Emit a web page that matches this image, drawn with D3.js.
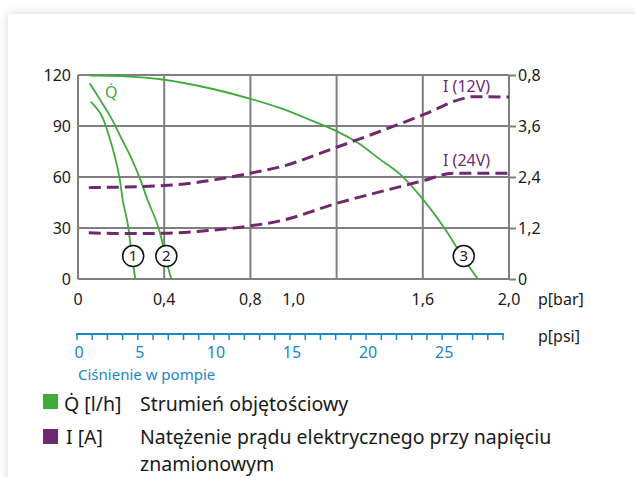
<!DOCTYPE html>
<html>
<head>
<meta charset="utf-8">
<script src="https://cdn.jsdelivr.net/npm/d3@7"></script>
<style>
  body { margin: 0; background: #fff; overflow: hidden; }
  #card { position: absolute; left: 8px; top: 14px; width: 700px; height: 520px;
          background: #fff; box-shadow: 0 0 9px rgba(0,0,0,0.16); }
  svg { position: absolute; left: 0; top: 0; }
  text { font-family: 'Noto Sans', sans-serif; fill: #1a1a1a; }
</style>
</head>
<body>
<div id="card"></div>
<script>
height = 477;
width = 635;

// data
barGrid = [0, 0.4, 0.8, 1.2, 1.6, 2.0];
barTicks = [0, 0.4, 0.8, 1.0, 1.6, 2.0];
barLabels = ['0', '0,4', '0,8', '1,0', '1,6', '2,0'];
qTicks = [0, 30, 60, 90, 120];
iTicks = [0, 1.2, 2.4, 3.6, 4.8];
iLabels = ['0', '1,2', '2,4', '3,6', '0,8'];
psiTicks = d3.range(0, 29);
psiLabelAt = [0, 4, 9, 14, 19, 24];
psiLabels = ['0', '5', '10', '15', '20', '25'];

curve1Bar = [0.059, 0.108, 0.147, 0.173, 0.193, 0.209, 0.229, 0.24, 0.251, 0.266];
curve1Q = [104.3, 96.5, 82.8, 71, 59.2, 45.5, 33.7, 24, 13.1, 0];
curve2Bar = [0.054, 0.108, 0.155, 0.201, 0.248, 0.287, 0.326, 0.364, 0.387, 0.405, 0.433];
curve2Q = [115.1, 104.3, 94.5, 82.8, 71, 59.2, 45.5, 33.7, 24, 13.1, 0];
curve3Bar = [0.056, 0.2, 0.4, 0.6, 0.8, 0.94, 1.05, 1.2, 1.3, 1.4, 1.5, 1.6, 1.7, 1.78, 1.855];
curve3Q = [119.6, 119.3, 117.2, 112.5, 106, 100.5, 95, 87, 80, 70.5, 61, 47, 30, 14, 0];
i12Bar = [0.05, 0.4, 0.63, 0.8, 0.94, 1.2, 1.4, 1.6, 1.79, 1.83, 2.0];
i12 = [2.15, 2.2, 2.33, 2.49, 2.64, 3.1, 3.47, 3.86, 4.25, 4.29, 4.28];
i24Bar = [0.05, 0.2, 0.4, 0.6, 0.8, 0.94, 1.2, 1.4, 1.6, 1.74, 2.0];
i24 = [1.09, 1.07, 1.075, 1.14, 1.25, 1.37, 1.78, 2.05, 2.31, 2.49, 2.49];
circleBar = [0.256, 0.41, 1.79];
circleQ = [13.5, 13.5, 13.5];
circleLabels = ['1', '2', '3'];

green = '#3fab3a';
purple = '#6e2970';
blue = '#1b86c6';
grey = '#7f7f7f';

svg1 = d3.select('body')
    .append('svg')
    .attr('width', width)
    .attr('height', height)

//scales
var xScale = d3.scaleLinear().domain([0, 2]).range([78, 509])
var yScale = d3.scaleLinear().domain([0, 120]).range([279, 75])
var iScale = d3.scaleLinear().domain([0, 4.8]).range([279, 75])
var psiScale = d3.scaleLinear().domain([0, 28]).range([77, 503])

//grid
svg1.append('g').selectAll('line')
    .data(barGrid)
    .join('line')
    .attr('x1', d => xScale(d)).attr('x2', d => xScale(d))
    .attr('y1', yScale(0)).attr('y2', yScale(120))
    .attr('stroke', grey).attr('stroke-width', 2)

svg1.append('g').selectAll('line')
    .data(qTicks)
    .join('line')
    .attr('x1', xScale(0)).attr('x2', xScale(2))
    .attr('y1', d => yScale(d)).attr('y2', d => yScale(d))
    .attr('stroke', grey).attr('stroke-width', 2)

//left axis labels
svg1.append('g').selectAll('text')
    .data(qTicks)
    .join('text')
    .text(d => d)
    .attr('x', 71)
    .attr('y', d => yScale(d) + 5.5)
    .attr('text-anchor', 'end')
    .style('font-size', '16px')

//right axis
var rightAxis = svg1.append('g')
    .attr('transform', 'translate(' + xScale(2) + ',0)')
    .call(d3.axisRight(iScale).tickValues(iTicks).tickSize(7).tickPadding(2)
        .tickFormat((d, i) => iLabels[i]))
rightAxis.select('.domain').remove()
rightAxis.selectAll('line').attr('stroke', grey).attr('stroke-width', 2)
rightAxis.selectAll('text').attr('fill', '#1a1a1a').style('font-size', '16px')
    .style('font-family', "'Noto Sans', sans-serif")

//bar labels
svg1.append('g').selectAll('text')
    .data(barTicks)
    .join('text')
    .text((d, i) => barLabels[i])
    .attr('x', d => xScale(d))
    .attr('y', 305)
    .attr('text-anchor', 'middle')
    .style('font-size', '16px')

svg1.append('text').text('p[bar]').attr('x', 538).attr('y', 305).style('font-size', '16px')
svg1.append('text').text('p[psi]').attr('x', 538).attr('y', 342).style('font-size', '16px')

//psi axis
svg1.append('line')
    .attr('x1', psiScale(0) - 1).attr('x2', psiScale(28) + 1)
    .attr('y1', 334).attr('y2', 334)
    .attr('stroke', blue).attr('stroke-width', 2)
svg1.append('g').selectAll('line')
    .data(psiTicks)
    .join('line')
    .attr('x1', d => psiScale(d)).attr('x2', d => psiScale(d))
    .attr('y1', 334).attr('y2', 340)
    .attr('stroke', blue).attr('stroke-width', 1.5)
svg1.append('g').selectAll('text')
    .data(psiLabelAt)
    .join('text')
    .text((d, i) => psiLabels[i])
    .attr('x', d => psiScale(d) + 2)
    .attr('y', 358)
    .attr('text-anchor', 'middle')
    .style('font-size', '16px')
    .style('fill', blue)
svg1.append('text').text('Ciśnienie w pompie')
    .attr('x', 78).attr('y', 380)
    .style('font-size', '15px').style('fill', blue)

//lines
var qLine = d3.line()
    .x(d => xScale(d[0]))
    .y(d => yScale(d[1]))
    .curve(d3.curveCatmullRom.alpha(0.5))
var iLine = d3.line()
    .x(d => xScale(d[0]))
    .y(d => iScale(d[1]))
    .curve(d3.curveMonotoneX)

function pairs(a, b) { return a.map((v, i) => [v, b[i]]) }

;[[curve1Bar, curve1Q], [curve2Bar, curve2Q], [curve3Bar, curve3Q]].forEach(function(c) {
    svg1.append('path')
        .datum(pairs(c[0], c[1]))
        .attr('d', qLine)
        .attr('fill', 'none')
        .attr('stroke', green)
        .attr('stroke-width', 1.8)
})

;[[i12Bar, i12], [i24Bar, i24]].forEach(function(c) {
    svg1.append('path')
        .datum(pairs(c[0], c[1]))
        .attr('d', iLine)
        .attr('fill', 'none')
        .attr('stroke', purple)
        .attr('stroke-width', 3)
        .attr('stroke-dasharray', '12,6')
})

//curve labels
svg1.append('text').text('Q\u0307').attr('x', 105).attr('y', 98)
    .style('font-size', '16px').style('fill', green)
svg1.append('text').text('I (12V)').attr('x', 443).attr('y', 92)
    .style('font-size', '16px').style('fill', purple)
svg1.append('text').text('I (24V)').attr('x', 443).attr('y', 166)
    .style('font-size', '16px').style('fill', purple)

svg1.append('g').selectAll('circle')
    .data(circleBar)
    .join('circle')
    .attr('cx', d => xScale(d))
    .attr('cy', (d, i) => yScale(circleQ[i]))
    .attr('r', 10.5)
    .attr('fill', '#fff')
    .attr('stroke', '#111')
    .attr('stroke-width', 1.5)
svg1.append('g').selectAll('text')
    .data(circleBar)
    .join('text')
    .text((d, i) => circleLabels[i])
    .attr('x', d => xScale(d))
    .attr('y', (d, i) => yScale(circleQ[i]) + 5)
    .attr('text-anchor', 'middle')
    .style('font-size', '15px')

//legend
svg1.append('rect').attr('x', 43).attr('y', 394).attr('width', 15).attr('height', 15).attr('fill', green)
svg1.append('rect').attr('x', 43).attr('y', 429).attr('width', 15).attr('height', 15).attr('fill', purple)

svg1.append('text').text('Q\u0307 [l/h]').attr('x', 64).attr('y', 411).style('font-size', '19.5px')
svg1.append('text').text('Strumień objętościowy').attr('x', 140).attr('y', 411).style('font-size', '19.5px')
svg1.append('text').text('I [A]').attr('x', 66).attr('y', 444.3).style('font-size', '19.5px')

var wrapped = svg1.append('text').attr('x', 140).attr('y', 444.3).style('font-size', '19.5px')
wrapped.append('tspan').attr('x', 140).text('Natężenie prądu elektrycznego przy napięciu')
wrapped.append('tspan').attr('x', 140).attr('dy', 26.7).text('znamionowym')
</script>
</body>
</html>
